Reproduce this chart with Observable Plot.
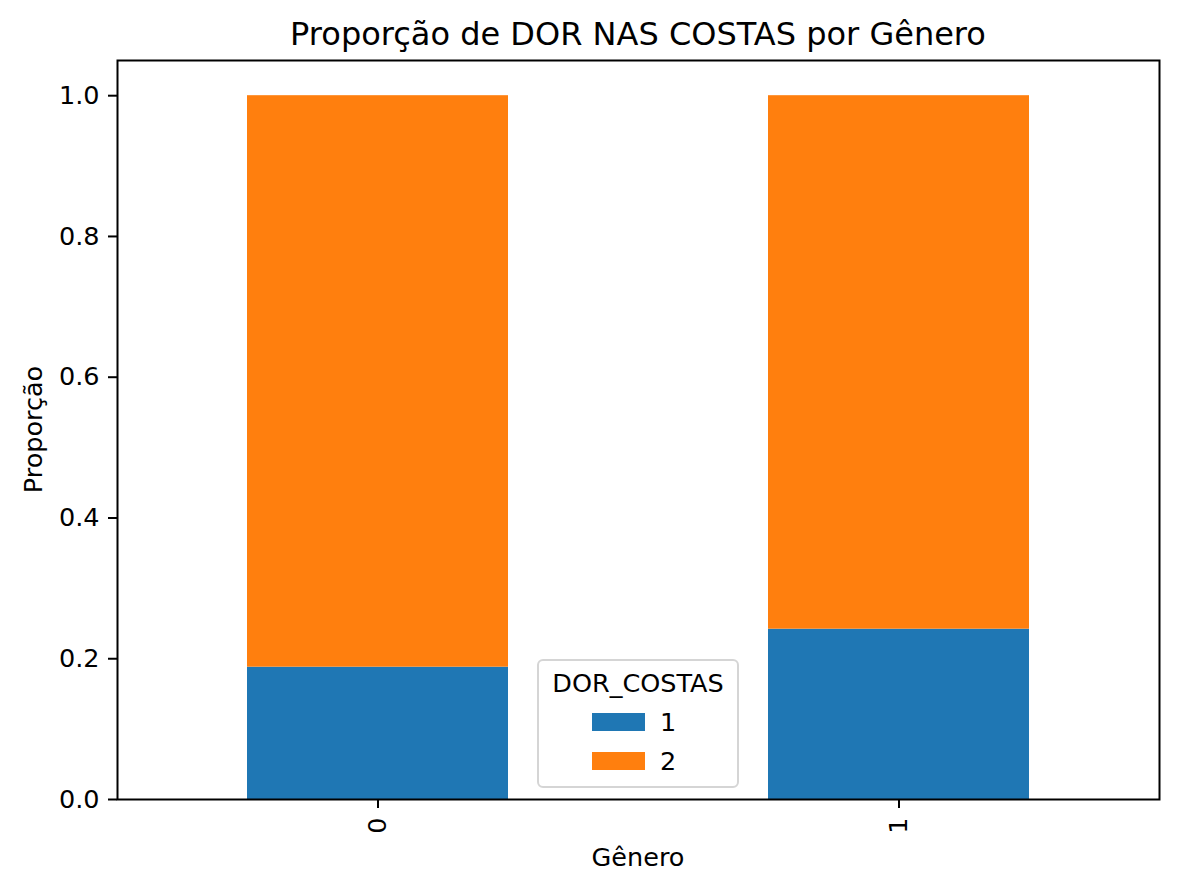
<!DOCTYPE html>
<html>
<head>
<meta charset="utf-8">
<script src="https://cdn.jsdelivr.net/npm/d3@7"></script>
<script src="https://cdn.jsdelivr.net/npm/@observablehq/plot@0.6"></script>
<style>
  body { margin: 0; background: #fff; }
  #chart { position: relative; width: 1177px; height: 891px; font-family: "DejaVu Sans", sans-serif; }
</style>
</head>
<body>
<div id="chart"></div>
<script>
const genders = ["0", "1"];
const painCategories = ["1", "2"];
const pain1 = [0.188, 0.242];
const pain2 = [0.812, 0.758];
const palette = ["#1f77b4", "#ff7f0e"];
const yTicks = [0, 0.2, 0.4, 0.6, 0.8, 1.0];
const titleText = "Proporção de DOR NAS COSTAS por Gênero";
const xLabel = "Gênero";
const yLabel = "Proporção";
const legendTitle = "DOR_COSTAS";

const rows = [];
genders.forEach((g, i) => {
  rows.push({genero: g, dor: painCategories[0], prop: pain1[i]});
  rows.push({genero: g, dor: painCategories[1], prop: pain2[i]});
});

const W = 1177, H = 891;
const mL = 117, mR = 18, mT = 60, mB = 92;
const font = "DejaVu Sans";

const chart = Plot.plot({
  width: W,
  height: H,
  marginLeft: mL,
  marginRight: mR,
  marginTop: mT,
  marginBottom: mB,
  style: {fontFamily: font, fontSize: "25px", color: "#000", background: "#fff"},
  x: {type: "band", domain: genders, paddingInner: 0.5, paddingOuter: 0.25},
  y: {domain: [0, 1.05]},
  color: {domain: painCategories, range: palette},
  marks: [
    Plot.barY(rows, Plot.stackY({x: "genero", y: "prop", fill: "dor", order: painCategories})),
    Plot.axisY({ticks: yTicks, tickFormat: d3.format(".1f"), tickSize: 9, tickPadding: 9, strokeWidth: 2, label: null, fontSize: 25.5}),
    Plot.axisX({tickRotate: -90, tickSize: 9, tickPadding: 9, strokeWidth: 2, label: null, fontSize: 25.5}),
    Plot.frame({stroke: "#000", strokeWidth: 2})
  ]
});

document.getElementById("chart").appendChild(chart);

const svg = d3.select(chart);
const cx = mL + (W - mL - mR) / 2;

// Title
svg.append("text").attr("x", cx).attr("y", 45).attr("text-anchor", "middle")
  .attr("font-family", font).attr("font-size", 32).attr("fill", "#000").text(titleText);

// X label
svg.append("text").attr("x", cx).attr("y", 866).attr("text-anchor", "middle")
  .attr("font-family", font).attr("font-size", 25.5).attr("fill", "#000").text(xLabel);

// Y label
svg.append("text").attr("transform", `translate(42, ${mT + (H - mT - mB) / 2}) rotate(-90)`)
  .attr("text-anchor", "middle")
  .attr("font-family", font).attr("font-size", 25.5).attr("fill", "#000").text(yLabel);

// Legend
const lg = svg.append("g");
lg.append("rect").attr("x", 538).attr("y", 660).attr("width", 200).attr("height", 127)
  .attr("rx", 5).attr("fill", "#fff").attr("fill-opacity", 0.8)
  .attr("stroke", "#d5d5d5").attr("stroke-width", 2);
lg.append("text").attr("x", 638).attr("y", 692).attr("text-anchor", "middle")
  .attr("font-family", font).attr("font-size", 25.5).attr("fill", "#000").text(legendTitle);
painCategories.forEach((c, i) => {
  const y0 = 713 + i * 39;
  lg.append("rect").attr("x", 592).attr("y", y0).attr("width", 53).attr("height", 18).attr("fill", palette[i]);
  lg.append("text").attr("x", 668).attr("y", y0 + 18).attr("font-family", font).attr("font-size", 25.5)
    .attr("fill", "#000").text(c);
});
</script>
</body>
</html>
